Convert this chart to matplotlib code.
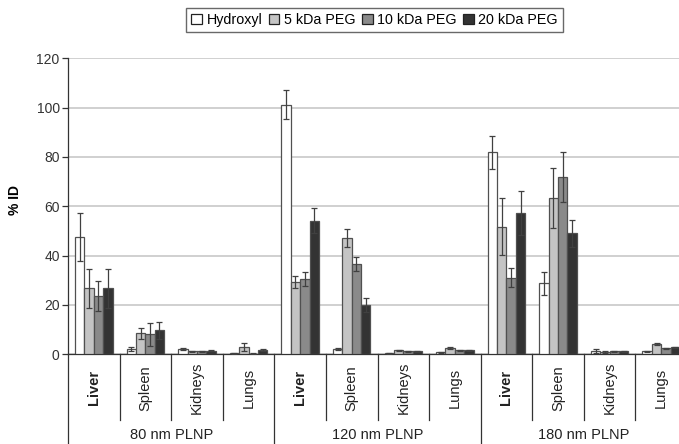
import matplotlib
matplotlib.use("Agg")
import matplotlib.pyplot as plt
import numpy as np

plt.rcParams['font.family'] = ['Liberation Sans', 'DejaVu Sans']

organs = ["Liver", "Spleen", "Kidneys", "Lungs"]
groups = ["80 nm PLNP", "120 nm PLNP", "180 nm PLNP"]
series_names = ["Hydroxyl", "5 kDa PEG", "10 kDa PEG", "20 kDa PEG"]

hydroxyl = [47.5, 2.0, 2.1, 0.5, 101.2, 2.1, 0.4, 0.9, 81.9, 28.8, 1.4, 1.3]
hydroxyl_err = [9.8, 0.8, 0.4, 0.2, 6.0, 0.3, 0.1, 0.2, 6.8, 4.6, 0.7, 0.2]
peg5 = [26.7, 8.5, 1.2, 3.0, 29.4, 47.0, 1.7, 2.6, 51.8, 63.2, 1.0, 4.2]
peg5_err = [8.0, 2.2, 0.3, 1.6, 2.5, 3.7, 0.2, 0.3, 11.4, 12.2, 0.3, 0.3]
peg10 = [23.6, 8.1, 1.2, 0.3, 30.4, 36.6, 1.3, 1.7, 31.1, 71.8, 1.3, 2.4]
peg10_err = [6.1, 4.6, 0.3, 0.1, 2.8, 2.7, 0.2, 0.2, 4.0, 10.1, 0.2, 0.2]
peg20 = [26.7, 9.7, 1.5, 1.8, 54.2, 20.0, 1.3, 1.7, 57.4, 49.0, 1.3, 2.8]
peg20_err = [8.0, 3.4, 0.3, 0.3, 5.0, 3.0, 0.2, 0.2, 9.0, 5.3, 0.2, 0.2]

yticks = [0, 20, 40, 60, 80, 100, 120]

series = [hydroxyl, peg5, peg10, peg20]
errors = [hydroxyl_err, peg5_err, peg10_err, peg20_err]
colors = ["#ffffff", "#c4c4c4", "#8a8a8a", "#333333"]

fig = plt.figure(figsize=(6.79, 4.44), dpi=100)
ax = fig.add_axes([68/679, 89.7/444, 619/679, 296/444])

n = len(hydroxyl)
x = np.arange(n)
w = 0.182
for k, (vals, errs, c, name) in enumerate(zip(series, errors, colors, series_names)):
    ax.bar(x + (k - 1.5) * w, vals, width=w, color=c, edgecolor="#505050",
           linewidth=0.9, label=name, zorder=3,
           yerr=errs, error_kw=dict(ecolor="#404040", elinewidth=0.9,
                                    capsize=2.5, capthick=0.9, zorder=4))

ax.set_xlim(-0.5, n - 0.5)
ax.set_ylim(0, 120)
ax.set_yticks(yticks)
ax.tick_params(axis='y', direction='out', length=4, width=0.9, colors="#333333",
               labelsize=10, labelcolor="#333333", pad=2)
ax.set_xticks([])
ax.yaxis.grid(True, color="#c8c8c8", linewidth=1.2, zorder=0)
ax.set_axisbelow(True)
for s in ["top", "right"]:
    ax.spines[s].set_visible(False)
ax.spines["left"].set_color("#333333")
ax.spines["bottom"].set_color("#333333")
ax.spines["left"].set_linewidth(0.9)
ax.spines["bottom"].set_linewidth(0.9)

ax.set_ylabel("% ID", fontsize=10, fontweight="bold")
ax.yaxis.set_label_coords(-0.075, 0.52)

trans = ax.get_xaxis_transform()
for b in range(n + 1):
    xb = b - 0.5
    if b % 4 == 0:
        ax.plot([xb, xb], [0, -0.32], transform=trans, color="#333333",
                linewidth=0.9, clip_on=False)
    else:
        ax.plot([xb, xb], [0, -0.222], transform=trans, color="#333333",
                linewidth=0.9, clip_on=False)

for i in range(n):
    organ = organs[i % 4]
    ax.text(i, -0.113, organ, transform=trans, rotation=90, ha="center",
            va="center", fontsize=10.5,
            fontweight="bold" if organ == "Liver" else "normal", color="#222222")

for g, name in enumerate(groups):
    ax.text(g * 4 + 1.5, -0.272, name, transform=trans, ha="center",
            va="center", fontsize=10.5, color="#222222")

leg = fig.legend(loc="center", bbox_to_anchor=(374.5/679, 1 - 20/444), ncol=4,
                 fontsize=10.3, frameon=True, fancybox=False, edgecolor="#444444",
                 handlelength=0.75, handleheight=0.75, handletextpad=0.3,
                 columnspacing=0.45, borderpad=0.35, borderaxespad=0)
leg.get_frame().set_linewidth(1.0)
for h in leg.legend_handles:
    h.set_edgecolor("#222222")
    h.set_linewidth(0.9)

fig.savefig("out.png", dpi=100)
